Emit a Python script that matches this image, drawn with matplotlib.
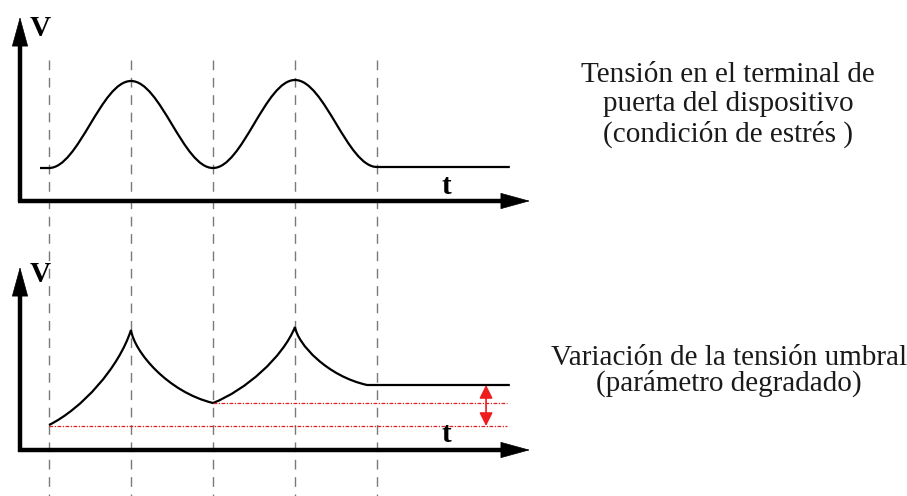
import numpy as np
import matplotlib.pyplot as plt
from matplotlib.path import Path
from matplotlib.patches import PathPatch

# Time marks shared by both plots (one unit = half a stress period).
T_MARKS = [0, 1, 2, 3, 4]

# Gate voltage keyframes (troughs and peaks of the stress signal).
GATE_T = [-0.11, 0, 1, 2, 3, 4, 5.62]
GATE_V = [0.33, 0.33, 1.20, 0.33, 1.21, 0.34, 0.34]
GATE_KIND = ["flat", "ease", "ease", "ease", "ease", "flat"]

# Threshold voltage keyframes (degraded parameter).
VTH_T = [0, 1, 2, 3, 3.88, 5.62]
VTH_V = [0.25, 1.20, 0.47, 1.23, 0.65, 0.65]
VTH_KIND = ["rise", "decay", "rise", "decay", "flat"]

# Reference levels of the threshold shift.
SHIFT_LOW = 0.24
SHIFT_HIGH = 0.47
SHIFT_END = 5.59
ARROW_T = 5.33

TXT_TOP = "Tensión en el terminal de\npuerta del dispositivo\n(condición de estrés )"
TXT_BOT = "Variación de la tensión umbral\n(parámetro degradado)"

SERIF = "Liberation Serif"

# bezier handles for each kind of segment, as fractions of (dx, dy)
HANDLES = {
    "ease": ((0.36, 0.0), (0.64, 1.0)),
    "rise": ((0.40, 0.17), (0.85, 0.60)),
    "decay": ((0.04, 0.30), (0.45, 0.85)),
    "flat": ((0.33, 0.33), (0.66, 0.66)),
}


def wave_path(ts, vs, kinds):
    verts = [(ts[0], vs[0])]
    codes = [Path.MOVETO]
    for i, kind in enumerate(kinds):
        x0, y0, x1, y1 = ts[i], vs[i], ts[i + 1], vs[i + 1]
        dx, dy = x1 - x0, y1 - y0
        (a, b), (c, d) = HANDLES[kind]
        verts += [(x0 + a * dx, y0 + b * dy), (x0 + c * dx, y0 + d * dy), (x1, y1)]
        codes += [Path.CURVE4] * 3
    return Path(verts, codes)


def draw_axes(ax, origin_t, y_tip, x_tip):
    ax.plot([origin_t - 0.03, x_tip - 0.2], [0, 0], color="black", lw=3.2,
            solid_capstyle="butt")
    ax.plot([origin_t, origin_t], [-0.015, y_tip - 0.2], color="black", lw=3.2,
            solid_capstyle="butt")
    head = dict(arrowstyle="-|>,head_length=2.0,head_width=0.55", color="black",
                lw=0.5, shrinkA=0, shrinkB=0)
    ax.annotate("", xy=(x_tip, 0), xytext=(x_tip - 0.4, 0), arrowprops=head)
    ax.annotate("", xy=(origin_t, y_tip), xytext=(origin_t, y_tip - 0.4),
                arrowprops=head)


fig = plt.figure(figsize=(9.07, 4.96), dpi=100)
xlim = (-49 / 82, 858 / 82)

ax_bg = fig.add_axes([0, 0, 1, 1])
ax_bg.set_xlim(*xlim)
ax_bg.set_ylim(496, 0)
ax_bg.axis("off")
ax_bg.vlines(T_MARKS, 60, 496, colors="#7a7a7a", lw=1.0,
             linestyles=(0, (7, 5.5)))

ax_top = fig.add_axes([0, 1 - 230 / 496, 1, 230 / 496])
ax_top.set_xlim(*xlim)
ax_top.set_ylim(-0.29, 2.01)
ax_top.axis("off")
ax_top.patch.set_alpha(0)

ax_bot = fig.add_axes([0, 0, 1, 256 / 496])
ax_bot.set_xlim(*xlim)
ax_bot.set_ylim(-0.46, 2.10)
ax_bot.axis("off")
ax_bot.patch.set_alpha(0)

origin_t = (20 - 49) / 82
x_tip = (530 - 49) / 82

# stress signal on the gate
ax_top.add_patch(PathPatch(wave_path(GATE_T, GATE_V, GATE_KIND), fill=False,
                           lw=1.6, ec="black"))
draw_axes(ax_top, origin_t, 1.84, x_tip)
ax_top.text(-0.11, 1.72, "V", family=SERIF, weight="bold", fontsize=21,
            ha="center", va="center")
ax_top.text(4.85, 0.14, "t", family=SERIF, weight="bold", fontsize=21,
            ha="center", va="center")

# threshold voltage response
red_ls = (0, (3, 1.2, 1, 1.2))
ax_bot.plot([VTH_T[0], SHIFT_END], [SHIFT_LOW, SHIFT_LOW], color="#e02020",
            lw=0.9, ls=red_ls)
ax_bot.plot([VTH_T[2], SHIFT_END], [SHIFT_HIGH, SHIFT_HIGH], color="#e02020",
            lw=0.9, ls=red_ls)
ax_bot.annotate("", xy=(ARROW_T, SHIFT_LOW), xytext=(ARROW_T, VTH_V[-1]),
                arrowprops=dict(arrowstyle="<|-|>,head_length=0.8,head_width=0.4",
                                color="#ee1c1c", lw=1.2, shrinkA=0, shrinkB=0))
ax_bot.add_patch(PathPatch(wave_path(VTH_T, VTH_V, VTH_KIND), fill=False,
                           lw=1.6, ec="black"))
draw_axes(ax_bot, origin_t, 1.83, x_tip)
ax_bot.text(-0.11, 1.75, "V", family=SERIF, weight="bold", fontsize=21,
            ha="center", va="center")
ax_bot.text(4.85, 0.15, "t", family=SERIF, weight="bold", fontsize=21,
            ha="center", va="center")

# captions
fig.text(728 / 907, 1 - 105 / 496, TXT_TOP, family=SERIF, fontsize=21,
         color="#1a1a1a", ha="center", va="center", linespacing=1.18)
fig.text(729 / 907, 1 - 371 / 496, TXT_BOT, family=SERIF, fontsize=21,
         color="#1a1a1a", ha="center", va="center", linespacing=0.95)

fig.savefig("out.png", dpi=100, facecolor="white")
